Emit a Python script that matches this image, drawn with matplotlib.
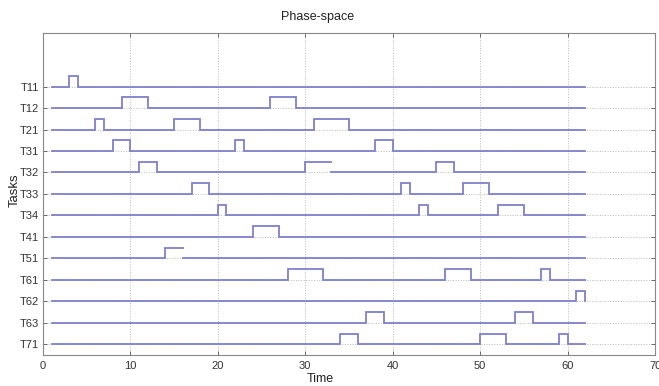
import matplotlib
matplotlib.use("Agg")
import matplotlib.pyplot as plt
import numpy as np

plt.rcParams['font.family'] = ['Liberation Sans', 'DejaVu Sans']

# task names, top to bottom
tasks = ['T11', 'T12', 'T21', 'T31', 'T32', 'T33', 'T34',
         'T41', 'T51', 'T61', 'T62', 'T63', 'T71']

# busy intervals (start, end) for every task
busy = {
    'T11': [(3, 4)],
    'T12': [(9, 12), (26, 29)],
    'T21': [(6, 7), (15, 18), (31, 35)],
    'T31': [(8, 10), (22, 23), (38, 40)],
    'T32': [(11, 13), (30, 33), (45, 47)],
    'T33': [(17, 19), (41, 42), (48, 51)],
    'T34': [(20, 21), (43, 44), (52, 55)],
    'T41': [(24, 27)],
    'T51': [(14, 16)],
    'T61': [(28, 32), (46, 49), (57, 58)],
    'T62': [(61, 62)],
    'T63': [(37, 39), (54, 56)],
    'T71': [(34, 36), (50, 53), (59, 60)],
}
# pulses drawn without a falling edge in the original
open_end = {('T32', 30), ('T51', 14)}

t_start = 1
t_end = 62
pulse_h = 0.5
line_col = '#7f7fcc'

fig = plt.figure(figsize=(6.59, 3.86), dpi=100)
ax = fig.add_axes([0.065, 0.080, 0.929, 0.835])

n = len(tasks)
for i, name in enumerate(tasks):
    base = n - i
    xs = [t_start]
    ys = [base]
    for (a, b) in busy[name]:
        xs += [a, a, b]
        ys += [base, base + pulse_h, base + pulse_h]
        if (name, a) in open_end:
            xs += [np.nan, b]
            ys += [np.nan, base]
        else:
            xs += [b]
            ys += [base]
    xs.append(t_end)
    ys.append(base)
    ax.plot(xs, ys, color=line_col, lw=1.3, solid_joinstyle='miter')

ax.set_xlim(0, 70)
ax.set_ylim(0.5, 15.5)
ax.set_xticks(np.arange(0, 71, 10))
ax.set_yticks(np.arange(n, 0, -1))
ax.set_yticklabels(tasks)
ax.grid(True, linestyle=':', color='#b8b8b8', lw=0.7)
ax.tick_params(direction='in', top=True, right=True, length=3,
               labelsize=8, colors='#555555', labelcolor='#333333', width=0.6)
ax.tick_params(axis='x', pad=4)
ax.tick_params(axis='y', pad=3)
for sp in ax.spines.values():
    sp.set_color('#888888')
    sp.set_linewidth(0.8)

fig.text(318 / 659, 1 - 17 / 386, 'Phase-space', ha='center', va='center',
         fontsize=9, color='#222222')
fig.text(320 / 659, 1 - 379 / 386, 'Time', ha='center', va='center',
         fontsize=9, color='#222222')
fig.text(15 / 659, 1 - 190 / 386, 'Tasks', ha='center', va='center',
         rotation=90, fontsize=9.5, color='#222222')

fig.savefig('out.png', dpi=100)
